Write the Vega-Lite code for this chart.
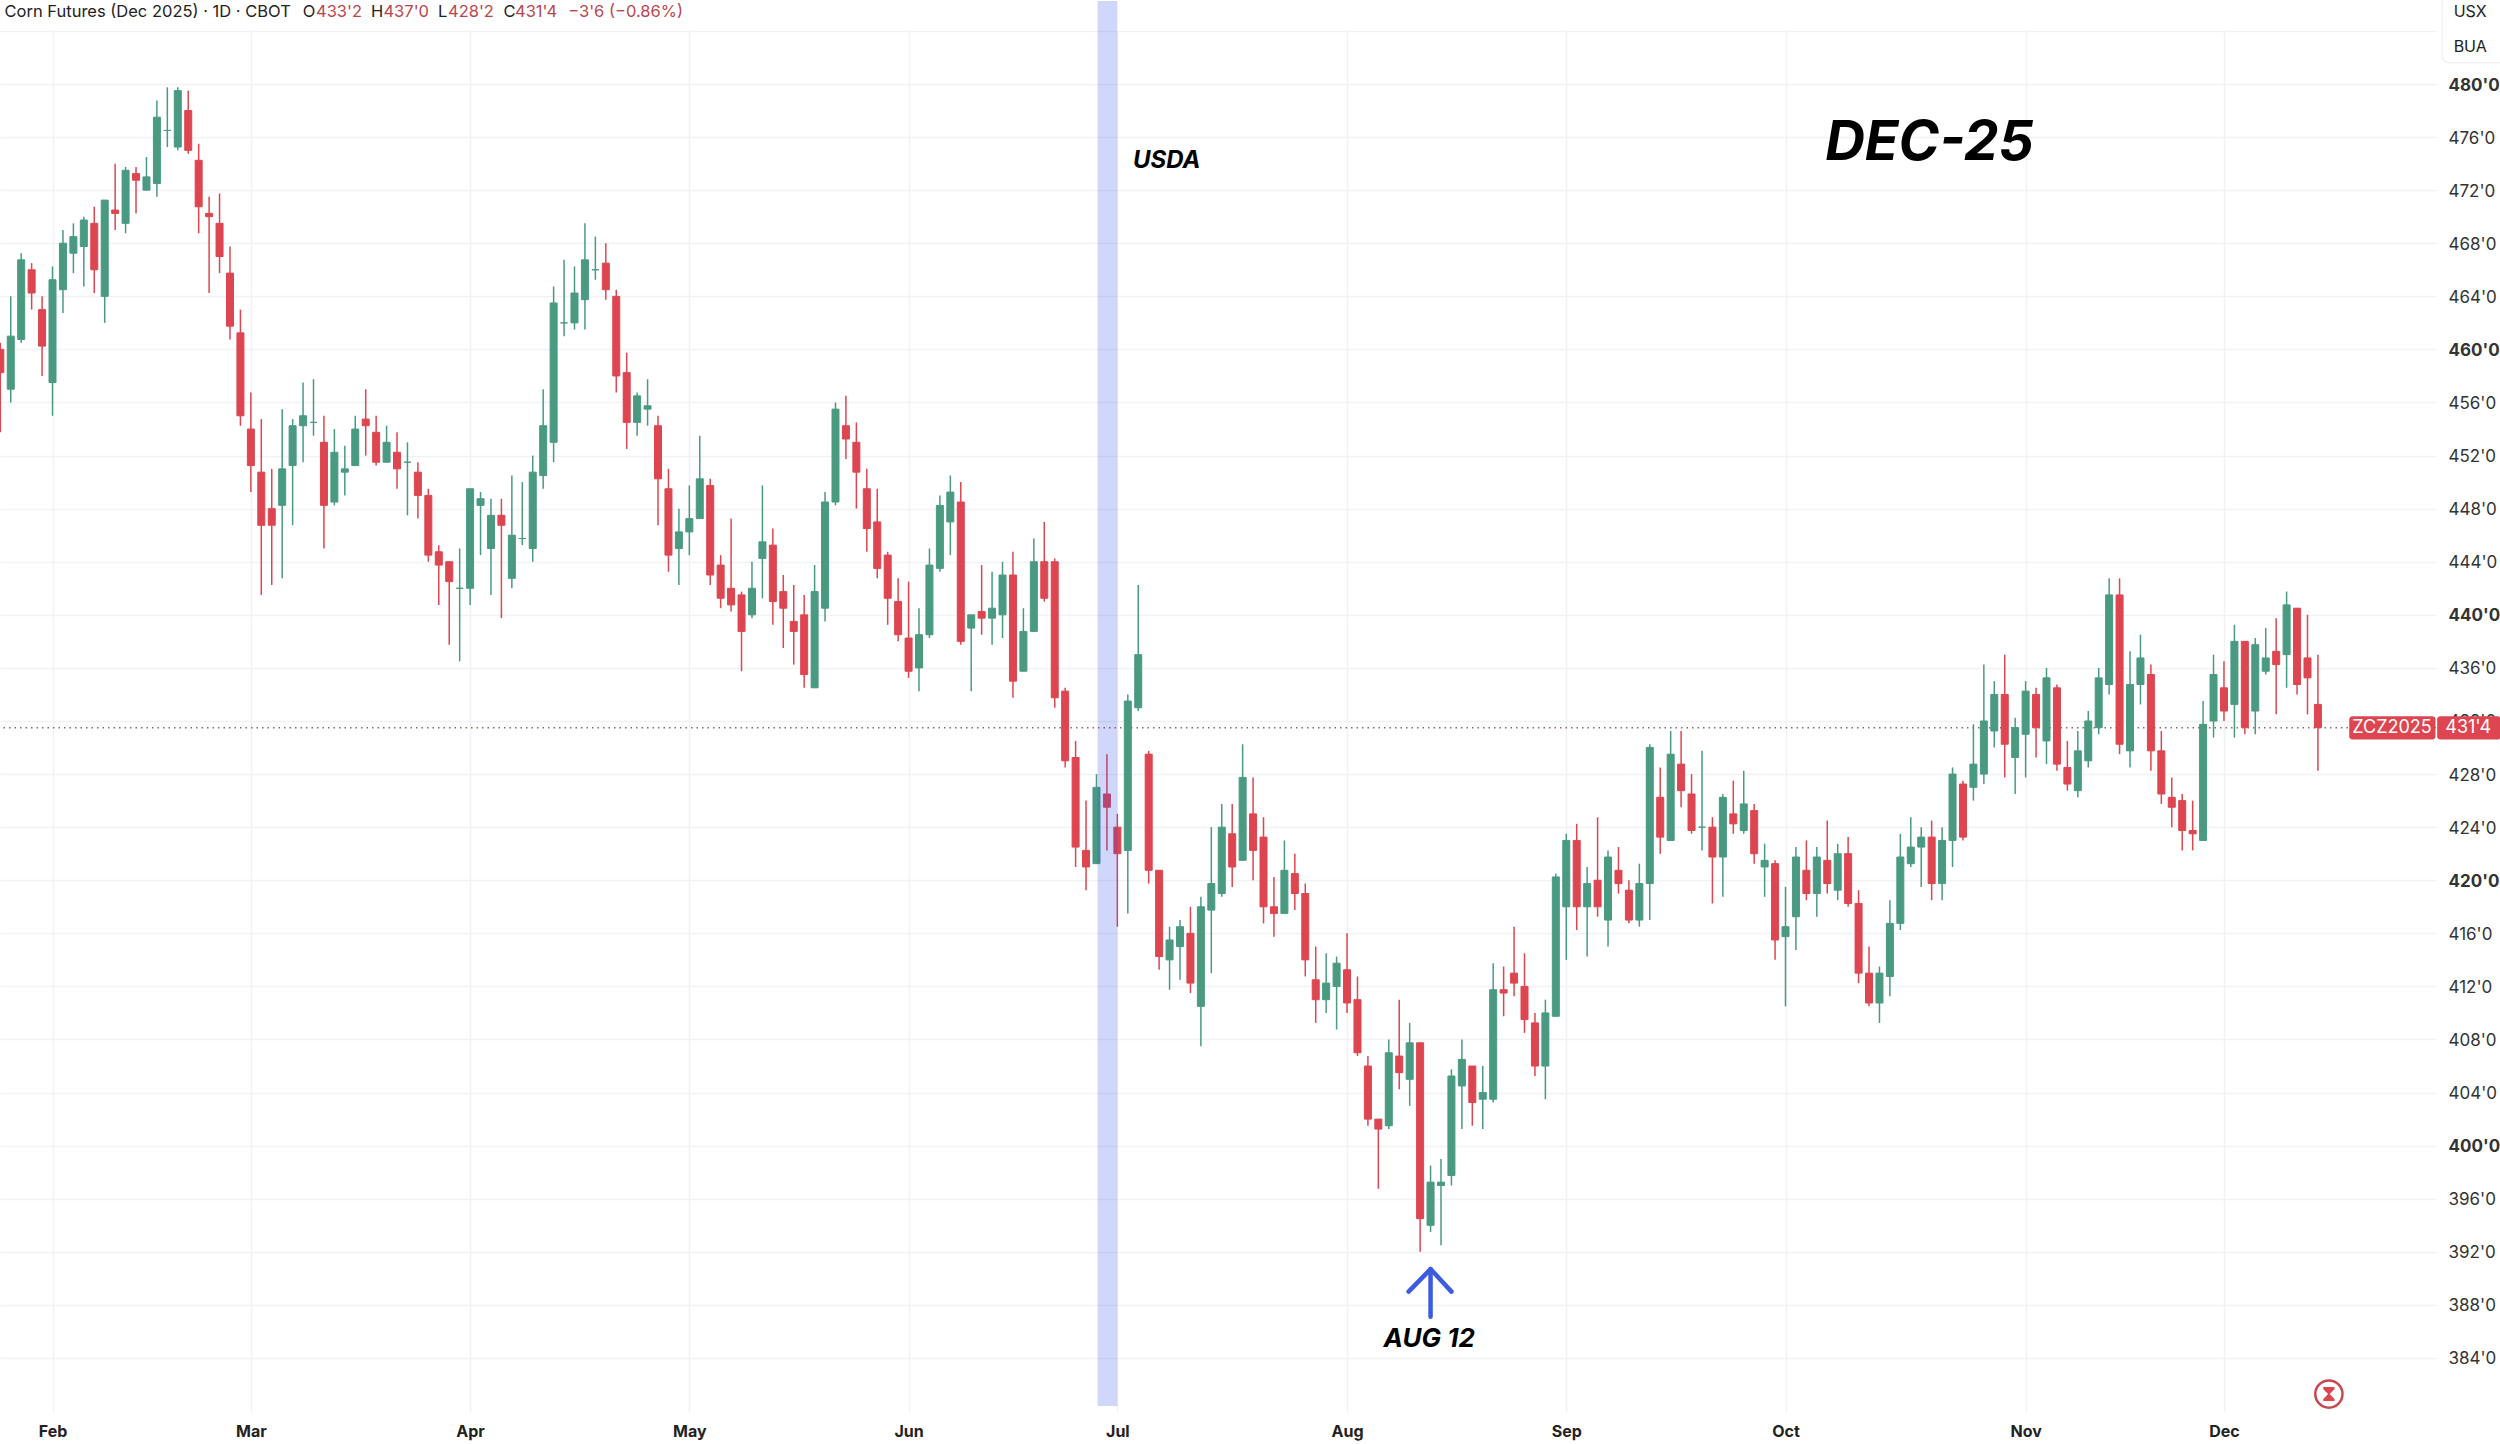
{
  "$schema": "https://vega.github.io/schema/vega-lite/v6.json",
  "autosize": "none",
  "padding": {"left": 0, "top": 0, "right": 64, "bottom": 32},
  "width": 2436,
  "height": 1412,
  "background": "#ffffff",
  "view": {"stroke": null},
  "config": {"font": "Inter"},
  "datasets": {
    "candles": [
      {"i":-5,"o":460,"h":460.5,"l":453.75,"c":458.25},
      {"i":-4,"o":457,"h":464,"l":456,"c":461},
      {"i":-3,"o":460.75,"h":467.25,"l":460.5,"c":466.75},
      {"i":-2,"o":466,"h":466.5,"l":463,"c":464.25},
      {"i":-1,"o":463,"h":464,"l":458,"c":460.25},
      {"i":0,"o":457.5,"h":466.25,"l":455,"c":465.25},
      {"i":1,"o":464.5,"h":469,"l":462.75,"c":468},
      {"i":2,"o":467.25,"h":469.5,"l":465.75,"c":468.5},
      {"i":3,"o":467.75,"h":470,"l":464.75,"c":469.75},
      {"i":4,"o":469.5,"h":470.75,"l":464.25,"c":466},
      {"i":5,"o":464,"h":471.25,"l":462,"c":471.25},
      {"i":6,"o":470.5,"h":474,"l":469,"c":470.25},
      {"i":7,"o":469.5,"h":473.75,"l":468.75,"c":473.5},
      {"i":8,"o":473.25,"h":473.75,"l":470.25,"c":472.75},
      {"i":9,"o":472,"h":474.5,"l":472,"c":473},
      {"i":10,"o":472.5,"h":478.75,"l":471.5,"c":477.5},
      {"i":11,"o":476.5,"h":479.75,"l":475.25,"c":476.5},
      {"i":12,"o":475.25,"h":479.75,"l":475,"c":479.5},
      {"i":13,"o":478,"h":479.5,"l":474.75,"c":475},
      {"i":14,"o":474.25,"h":475.5,"l":468.75,"c":470.75},
      {"i":15,"o":470.25,"h":471.5,"l":464.25,"c":470},
      {"i":16,"o":469.5,"h":471.75,"l":465.75,"c":467},
      {"i":17,"o":465.75,"h":467.75,"l":460.75,"c":461.75},
      {"i":18,"o":461.25,"h":463,"l":454.25,"c":455},
      {"i":19,"o":454,"h":456.75,"l":449.25,"c":451.25},
      {"i":20,"o":450.75,"h":454.75,"l":441.5,"c":446.75},
      {"i":21,"o":448,"h":451,"l":442.25,"c":446.75},
      {"i":22,"o":448.25,"h":455.5,"l":442.75,"c":451},
      {"i":23,"o":451.25,"h":454.75,"l":446.75,"c":454.25},
      {"i":24,"o":454.25,"h":457.5,"l":451.5,"c":455},
      {"i":25,"o":454.5,"h":457.75,"l":453.5,"c":454.5},
      {"i":26,"o":453,"h":455,"l":445,"c":448.25},
      {"i":27,"o":448.5,"h":454,"l":448.25,"c":452.25},
      {"i":28,"o":450.75,"h":452.75,"l":449,"c":451},
      {"i":29,"o":451.25,"h":455,"l":451.25,"c":454},
      {"i":30,"o":454.75,"h":457,"l":452,"c":454.25},
      {"i":31,"o":453.75,"h":455,"l":451.25,"c":451.5},
      {"i":32,"o":451.5,"h":454.25,"l":451.5,"c":453},
      {"i":33,"o":452.25,"h":453.75,"l":449.5,"c":451},
      {"i":34,"o":451.5,"h":453,"l":447.5,"c":451.5},
      {"i":35,"o":450.75,"h":451.5,"l":447.25,"c":449},
      {"i":36,"o":449,"h":449.5,"l":444,"c":444.5},
      {"i":37,"o":444.75,"h":445.25,"l":440.75,"c":443.75},
      {"i":38,"o":444,"h":444,"l":437.75,"c":442.5},
      {"i":39,"o":442,"h":445,"l":436.5,"c":442},
      {"i":40,"o":442,"h":449.5,"l":440.75,"c":449.5},
      {"i":41,"o":448.25,"h":449.25,"l":444.5,"c":448.75},
      {"i":42,"o":445,"h":448.75,"l":441.5,"c":447.5},
      {"i":43,"o":447.5,"h":448.75,"l":439.75,"c":446.75},
      {"i":44,"o":442.75,"h":450.5,"l":442,"c":446},
      {"i":45,"o":445.75,"h":450,"l":445.25,"c":445.75},
      {"i":46,"o":445,"h":452,"l":444,"c":450.75},
      {"i":47,"o":450.5,"h":457,"l":449.5,"c":454.25},
      {"i":48,"o":453,"h":464.75,"l":451.5,"c":463.5},
      {"i":49,"o":462,"h":466.75,"l":461,"c":462},
      {"i":50,"o":462,"h":466.25,"l":461.5,"c":464.25},
      {"i":51,"o":463.75,"h":469.5,"l":461.5,"c":466.75},
      {"i":52,"o":466,"h":468.5,"l":465.25,"c":466},
      {"i":53,"o":466.5,"h":468,"l":463.75,"c":464.5},
      {"i":54,"o":464,"h":464.5,"l":456.75,"c":458},
      {"i":55,"o":458.25,"h":459.75,"l":452.5,"c":454.5},
      {"i":56,"o":454.5,"h":456.75,"l":453.5,"c":456.5},
      {"i":57,"o":455.5,"h":457.75,"l":454.25,"c":455.75},
      {"i":58,"o":454.25,"h":455,"l":446.75,"c":450.25},
      {"i":59,"o":449.5,"h":451,"l":443.25,"c":444.5},
      {"i":60,"o":445,"h":448,"l":442.25,"c":446.25},
      {"i":61,"o":446.25,"h":449.75,"l":444.5,"c":447.25},
      {"i":62,"o":447.25,"h":453.5,"l":447.25,"c":450.25},
      {"i":63,"o":449.75,"h":450.25,"l":442.25,"c":443},
      {"i":64,"o":443.75,"h":444.5,"l":440.5,"c":441.25},
      {"i":65,"o":442,"h":447.25,"l":440.25,"c":440.75},
      {"i":66,"o":441.5,"h":441.75,"l":435.75,"c":438.75},
      {"i":67,"o":440,"h":444,"l":439.75,"c":442},
      {"i":68,"o":444.25,"h":449.75,"l":441.25,"c":445.5},
      {"i":69,"o":445.25,"h":446.5,"l":439.25,"c":441},
      {"i":70,"o":441.75,"h":443,"l":437.5,"c":440.5},
      {"i":71,"o":439.5,"h":442.25,"l":436.25,"c":438.75},
      {"i":72,"o":440,"h":441.5,"l":434.5,"c":435.5},
      {"i":73,"o":434.5,"h":443.75,"l":434.5,"c":441.75},
      {"i":74,"o":440.5,"h":449.25,"l":439.5,"c":448.5},
      {"i":75,"o":448.5,"h":456,"l":448.25,"c":455.5},
      {"i":76,"o":454.25,"h":456.5,"l":451.75,"c":453.25},
      {"i":77,"o":453,"h":454.5,"l":448,"c":450.75},
      {"i":78,"o":449.5,"h":451,"l":444.75,"c":446.5},
      {"i":79,"o":447,"h":449.5,"l":442.75,"c":443.5},
      {"i":80,"o":444.5,"h":444.75,"l":439.25,"c":441.25},
      {"i":81,"o":441,"h":442.75,"l":438,"c":438.5},
      {"i":82,"o":438.25,"h":442.5,"l":435.25,"c":435.75},
      {"i":83,"o":436,"h":440.5,"l":434.25,"c":438.5},
      {"i":84,"o":438.5,"h":445,"l":438.25,"c":443.75},
      {"i":85,"o":443.5,"h":449,"l":443.25,"c":448.25},
      {"i":86,"o":447,"h":450.5,"l":444.5,"c":449.25},
      {"i":87,"o":448.5,"h":450,"l":437.75,"c":438},
      {"i":88,"o":439,"h":440,"l":434.25,"c":440},
      {"i":89,"o":440.25,"h":443.75,"l":438.5,"c":439.75},
      {"i":90,"o":439.75,"h":443.25,"l":437.75,"c":440.5},
      {"i":91,"o":440,"h":444,"l":438.25,"c":443},
      {"i":92,"o":443,"h":444.75,"l":433.75,"c":435},
      {"i":93,"o":435.75,"h":440.5,"l":435.75,"c":438.75},
      {"i":94,"o":438.75,"h":445.75,"l":438.75,"c":444},
      {"i":95,"o":444,"h":447,"l":441,"c":441.25},
      {"i":96,"o":444,"h":444.25,"l":433,"c":433.75},
      {"i":97,"o":434.25,"h":434.5,"l":428.5,"c":429},
      {"i":98,"o":429.25,"h":430.5,"l":421,"c":422.5},
      {"i":99,"o":422.25,"h":426,"l":419.25,"c":421},
      {"i":100,"o":421.25,"h":428,"l":421.25,"c":427},
      {"i":101,"o":426.5,"h":429.5,"l":422.25,"c":425.5},
      {"i":102,"o":424,"h":425,"l":416.5,"c":422},
      {"i":103,"o":422.25,"h":434,"l":417.5,"c":433.5},
      {"i":104,"o":433,"h":442.25,"l":432.75,"c":437},
      {"i":105,"o":429.5,"h":429.75,"l":419.75,"c":420.75},
      {"i":106,"o":420.75,"h":420.75,"l":413.25,"c":414.25},
      {"i":107,"o":414,"h":416.5,"l":411.75,"c":415.5},
      {"i":108,"o":415,"h":417,"l":412.5,"c":416.5},
      {"i":109,"o":416,"h":418,"l":411.5,"c":412.25},
      {"i":110,"o":410.5,"h":418.75,"l":407.5,"c":418},
      {"i":111,"o":417.75,"h":424,"l":413,"c":419.75},
      {"i":112,"o":419,"h":425.75,"l":418.75,"c":424},
      {"i":113,"o":423.5,"h":425.75,"l":419.5,"c":421},
      {"i":114,"o":421.5,"h":430.25,"l":421.5,"c":427.75},
      {"i":115,"o":425,"h":427.75,"l":420,"c":422.25},
      {"i":116,"o":423.25,"h":424.75,"l":416.75,"c":418},
      {"i":117,"o":418,"h":420.25,"l":415.75,"c":417.5},
      {"i":118,"o":417.5,"h":423,"l":417.5,"c":420.75},
      {"i":119,"o":420.5,"h":422,"l":417.75,"c":419},
      {"i":120,"o":419,"h":419.75,"l":412.75,"c":414},
      {"i":121,"o":412.5,"h":415,"l":409.25,"c":411},
      {"i":122,"o":411,"h":414.5,"l":410,"c":412.25},
      {"i":123,"o":412,"h":414.25,"l":408.75,"c":413.75},
      {"i":124,"o":413.25,"h":416,"l":410,"c":410.75},
      {"i":125,"o":411,"h":412.75,"l":406.75,"c":407},
      {"i":126,"o":406,"h":406.75,"l":401.5,"c":402},
      {"i":127,"o":402,"h":402,"l":396.75,"c":401.25},
      {"i":128,"o":401.5,"h":408,"l":401.25,"c":407},
      {"i":129,"o":406.75,"h":411,"l":404.25,"c":405.5},
      {"i":130,"o":405,"h":409.25,"l":403,"c":407.75},
      {"i":131,"o":407.75,"h":407.75,"l":392,"c":394.5},
      {"i":132,"o":394,"h":398.5,"l":393.5,"c":397.25},
      {"i":133,"o":397,"h":399,"l":392.5,"c":397.25},
      {"i":134,"o":397.75,"h":405.75,"l":397,"c":405.25},
      {"i":135,"o":404.5,"h":408,"l":401.25,"c":406.5},
      {"i":136,"o":406,"h":406,"l":401.5,"c":403.25},
      {"i":137,"o":403.5,"h":406,"l":401.25,"c":404},
      {"i":138,"o":403.5,"h":413.75,"l":403.25,"c":411.75},
      {"i":139,"o":411.75,"h":413.5,"l":409.75,"c":411.5},
      {"i":140,"o":413,"h":416.5,"l":411.25,"c":412.25},
      {"i":141,"o":412,"h":414.5,"l":408.5,"c":409.5},
      {"i":142,"o":409.25,"h":410,"l":405.25,"c":406},
      {"i":143,"o":406,"h":411,"l":403.5,"c":410},
      {"i":144,"o":409.75,"h":420.5,"l":409.75,"c":420.25},
      {"i":145,"o":418,"h":423.5,"l":414,"c":423},
      {"i":146,"o":423,"h":424.25,"l":416.25,"c":418},
      {"i":147,"o":418,"h":421,"l":414.25,"c":419.75},
      {"i":148,"o":420,"h":424.75,"l":417.25,"c":418},
      {"i":149,"o":417,"h":422.25,"l":415,"c":421.75},
      {"i":150,"o":420.75,"h":422.5,"l":419,"c":419.75},
      {"i":151,"o":419.25,"h":420,"l":416.75,"c":417},
      {"i":152,"o":417,"h":421.25,"l":416.5,"c":419.75},
      {"i":153,"o":419.75,"h":430.25,"l":417,"c":430},
      {"i":154,"o":426.25,"h":428.5,"l":422,"c":423.25},
      {"i":155,"o":423,"h":431.25,"l":423,"c":429.5},
      {"i":156,"o":428.75,"h":431.25,"l":425.5,"c":426.75},
      {"i":157,"o":426.5,"h":428,"l":423.5,"c":423.75},
      {"i":158,"o":424,"h":429.75,"l":422.25,"c":424},
      {"i":159,"o":424,"h":424.75,"l":418.25,"c":421.75},
      {"i":160,"o":421.75,"h":426.5,"l":418.75,"c":426.25},
      {"i":161,"o":425,"h":427.5,"l":423.5,"c":424.25},
      {"i":162,"o":423.75,"h":428.25,"l":423.5,"c":425.75},
      {"i":163,"o":425.25,"h":425.75,"l":421.25,"c":422},
      {"i":164,"o":421,"h":422.75,"l":418.75,"c":421.5},
      {"i":165,"o":421.25,"h":421.5,"l":414,"c":415.5},
      {"i":166,"o":415.75,"h":419.5,"l":410.5,"c":416.5},
      {"i":167,"o":417.25,"h":422.5,"l":414.75,"c":421.75},
      {"i":168,"o":420.75,"h":423,"l":418.5,"c":419},
      {"i":169,"o":419,"h":422.5,"l":417.25,"c":421.75},
      {"i":170,"o":421.5,"h":424.5,"l":419,"c":419.75},
      {"i":171,"o":419.25,"h":422.75,"l":418.5,"c":422},
      {"i":172,"o":422,"h":423.25,"l":418,"c":418.25},
      {"i":173,"o":418.25,"h":419.25,"l":412.25,"c":413},
      {"i":174,"o":413,"h":415,"l":410.5,"c":410.75},
      {"i":175,"o":410.75,"h":413.5,"l":409.25,"c":413},
      {"i":176,"o":412.75,"h":418.5,"l":411.25,"c":416.75},
      {"i":177,"o":416.75,"h":423.5,"l":416.25,"c":421.75},
      {"i":178,"o":421.25,"h":424.75,"l":421,"c":422.5},
      {"i":179,"o":422.5,"h":424,"l":419.5,"c":423.25},
      {"i":180,"o":423.25,"h":424.5,"l":418.5,"c":419.75},
      {"i":181,"o":419.75,"h":424,"l":418.5,"c":423},
      {"i":182,"o":423,"h":428.5,"l":421,"c":428},
      {"i":183,"o":427.25,"h":427.5,"l":423,"c":423.25},
      {"i":184,"o":427,"h":431.75,"l":426,"c":428.75},
      {"i":185,"o":428,"h":436.25,"l":427.25,"c":432},
      {"i":186,"o":431.25,"h":435,"l":430,"c":434},
      {"i":187,"o":434,"h":437,"l":427.75,"c":430.25},
      {"i":188,"o":429.25,"h":432.25,"l":426.5,"c":431.5},
      {"i":189,"o":431,"h":435,"l":427.75,"c":434.25},
      {"i":190,"o":434,"h":434.5,"l":429.25,"c":431.5},
      {"i":191,"o":430.5,"h":436,"l":428.75,"c":435.25},
      {"i":192,"o":434.5,"h":434.75,"l":428.25,"c":428.75},
      {"i":193,"o":428.5,"h":430.5,"l":426.75,"c":427.25},
      {"i":194,"o":426.75,"h":431.25,"l":426.25,"c":429.75},
      {"i":195,"o":429,"h":432.75,"l":428.5,"c":432},
      {"i":196,"o":431.5,"h":436,"l":431,"c":435.25},
      {"i":197,"o":434.75,"h":442.75,"l":434,"c":441.5},
      {"i":198,"o":441.5,"h":442.75,"l":429.5,"c":430.25},
      {"i":199,"o":429.75,"h":437.25,"l":428.5,"c":434.75},
      {"i":200,"o":434.75,"h":438.5,"l":433.25,"c":436.75},
      {"i":201,"o":435.5,"h":436.25,"l":428.25,"c":429.75},
      {"i":202,"o":429.75,"h":431.25,"l":425.75,"c":426.5},
      {"i":203,"o":426.25,"h":427.75,"l":424,"c":425.5},
      {"i":204,"o":426,"h":426.5,"l":422.25,"c":423.75},
      {"i":205,"o":423.75,"h":426,"l":422.25,"c":423.5},
      {"i":206,"o":423,"h":433.5,"l":423,"c":431.75},
      {"i":207,"o":432,"h":437,"l":430.75,"c":435.5},
      {"i":208,"o":434.5,"h":436.5,"l":432,"c":432.75},
      {"i":209,"o":433.25,"h":439.25,"l":430.75,"c":438},
      {"i":210,"o":438,"h":438,"l":431,"c":431.5},
      {"i":211,"o":432.75,"h":438.25,"l":431,"c":437.75},
      {"i":212,"o":435.75,"h":439,"l":435.5,"c":436.75},
      {"i":213,"o":437.25,"h":439.75,"l":432.5,"c":436.25},
      {"i":214,"o":437,"h":441.75,"l":434.5,"c":440.75},
      {"i":215,"o":440.5,"h":440.5,"l":434,"c":434.75},
      {"i":216,"o":436.75,"h":440,"l":432.5,"c":435.25},
      {"i":217,"o":433.25,"h":437,"l":428.25,"c":431.5}
    ],
    "headerDark": [
      {"i":-4.6,"p":485.45,"label":"Corn Futures (Dec 2025) · 1D · CBOT"},
      {"i":23.97,"p":485.45,"label":"O"},
      {"i":30.5,"p":485.45,"label":"H"},
      {"i":36.93,"p":485.45,"label":"L"},
      {"i":43.2,"p":485.45,"label":"C"}
    ],
    "headerRed": [
      {"i":25.24,"p":485.45,"label":"433'2"},
      {"i":31.7,"p":485.45,"label":"437'0"},
      {"i":37.88,"p":485.45,"label":"428'2"},
      {"i":44.3,"p":485.45,"label":"431'4"},
      {"i":49.4,"p":485.45,"label":"−3'6 (−0.86%)"}
    ],
    "notes": [
      {"i":103.5,"p":474.2,"label":"USDA","size":24},
      {"i":169.8,"p":475.55,"label":"DEC-25","size":55},
      {"i":127.5,"p":385.45,"label":"AUG 12","size":26}
    ],
    "arrow": [
      {"i":129.9,"p":389,"part":"head"},
      {"i":132,"p":390.7,"part":"head"},
      {"i":134,"p":389,"part":"head"},
      {"i":132,"p":390.7,"part":"stem"},
      {"i":132,"p":387.1,"part":"stem"}
    ],
    "tag": [
      {"from":220,"to":228.26,"top":432.35,"bottom":430.6},
      {"from":228.42,"to":234.5,"top":432.35,"bottom":430.6}
    ],
    "tagText": [
      {"i":224.1,"p":431.5,"label":"ZCZ2025"},
      {"i":231.4,"p":431.5,"label":"431'4"}
    ],
    "unit": [
      {"i":230,"p":485.43,"label":"USX"},
      {"i":230,"p":482.79,"label":"BUA"}
    ]
  },
  "layer": [
    {
      "data": {"values": [{"a":484.05,"b":486.33}]},
      "mark": {"type": "rect", "fill": "#ffffff"},
      "encoding": {
        "y": {
          "field": "a",
          "type": "quantitative",
          "title": null,
          "scale": {"domain": [379.93, 486.33], "nice": false, "zero": false},
          "axis": {
            "orient": "right",
            "title": null,
            "values": [384,388,392,396,400,404,408,412,416,420,424,428,432,436,440,444,448,452,456,460,464,468,472,476,480,484],
            "labelExpr": "datum.value > 480 ? '' : datum.value + \"'0\"",
            "labelFontSize": 17,
            "labelColor": "#333333",
            "labelFontWeight": {"condition": {"test": "datum.value % 20 == 0", "value": "bold"}, "value": "normal"},
            "labelPadding": 12,
            "labelOffset": 1,
            "labelOverlap": false,
            "labelBound": false,
            "ticks": false,
            "domain": false,
            "grid": true,
            "gridColor": "#f1f2f4",
            "gridWidth": 1.5
          }
        },
        "y2": {"field": "b"}
      }
    },
    {
      "data": {"values": [{"p":431.5}]},
      "mark": {"type": "rule", "color": "#8c6a5c", "strokeWidth": 1.5, "strokeDash": [1.5, 4]},
      "encoding": {"y": {"field": "p", "type": "quantitative", "title": null}}
    },
    {
      "data": {"name": "candles"},
      "mark": {"type": "rule", "strokeWidth": 1.5},
      "encoding": {
        "x": {
          "field": "i",
          "type": "quantitative",
          "title": null,
          "scale": {"domain": [-5.03, 228.31], "nice": false, "zero": false, "padding": 0},
          "axis": {
            "title": null,
            "values": [0,19,40,61,82,102,124,145,166,189,208],
            "labelExpr": "['Feb','Mar','Apr','May','Jun','Jul','Aug','Sep','Oct','Nov','Dec'][indexof([0,19,40,61,82,102,124,145,166,189,208], datum.value)]",
            "labelFontSize": 16,
            "labelFontWeight": "bold",
            "labelColor": "#222222",
            "labelPadding": 11,
            "labelOverlap": false,
            "labelFlush": false,
            "ticks": false,
            "domain": false,
            "grid": true,
            "gridColor": "#f1f2f4",
            "gridWidth": 1.5
          }
        },
        "y": {"field": "l", "type": "quantitative", "title": null},
        "y2": {"field": "h"},
        "stroke": {"condition": {"test": "datum.c >= datum.o", "value": "#4a9a82"}, "value": "#dd4650"}
      }
    },
    {
      "data": {"name": "candles"},
      "mark": {"type": "bar", "size": 7, "strokeWidth": 1},
      "encoding": {
        "x": {"field": "i", "type": "quantitative", "title": null},
        "y": {"field": "o", "type": "quantitative", "title": null},
        "y2": {"field": "c"},
        "fill": {"condition": {"test": "datum.c >= datum.o", "value": "#4a9a82"}, "value": "#dd4650"},
        "stroke": {"condition": {"test": "datum.c >= datum.o", "value": "#4a9a82"}, "value": "#dd4650"}
      }
    },
    {
      "data": {"values": [{"from":100.1,"to":102,"top":486.25,"bottom":380.38}]},
      "mark": {"type": "rect", "fill": "#2a4be8", "opacity": 0.22},
      "encoding": {
        "x": {"field": "from", "type": "quantitative", "title": null},
        "x2": {"field": "to"},
        "y": {"field": "top", "type": "quantitative", "title": null},
        "y2": {"field": "bottom"}
      }
    },
    {
      "data": {"name": "headerDark"},
      "mark": {"type": "text", "align": "left", "baseline": "middle", "fontSize": 16.5, "color": "#222222"},
      "encoding": {
        "x": {"field": "i", "type": "quantitative", "title": null},
        "y": {"field": "p", "type": "quantitative", "title": null},
        "text": {"field": "label"}
      }
    },
    {
      "data": {"name": "headerRed"},
      "mark": {"type": "text", "align": "left", "baseline": "middle", "fontSize": 16.5, "color": "#b9464e"},
      "encoding": {
        "x": {"field": "i", "type": "quantitative", "title": null},
        "y": {"field": "p", "type": "quantitative", "title": null},
        "text": {"field": "label"}
      }
    },
    {
      "data": {"name": "notes"},
      "mark": {"type": "text", "align": "left", "baseline": "middle", "fontWeight": "bold", "fontStyle": "italic", "color": "#000000"},
      "encoding": {
        "x": {"field": "i", "type": "quantitative", "title": null},
        "y": {"field": "p", "type": "quantitative", "title": null},
        "text": {"field": "label"},
        "size": {"field": "size", "type": "quantitative", "scale": null}
      }
    },
    {
      "data": {"name": "arrow"},
      "mark": {"type": "line", "color": "#3b5be0", "strokeWidth": 4.5, "strokeCap": "round", "strokeJoin": "round"},
      "encoding": {
        "x": {"field": "i", "type": "quantitative", "title": null},
        "y": {"field": "p", "type": "quantitative", "title": null},
        "detail": {"field": "part"},
        "order": {"field": "i"}
      }
    },
    {
      "data": {"values": [{"from":228.9,"to":235,"top":487,"bottom":481.6}]},
      "mark": {"type": "rect", "fill": "#ffffff", "stroke": "#f2f2f2", "strokeWidth": 1.5, "cornerRadiusBottomLeft": 7},
      "encoding": {
        "x": {"field": "from", "type": "quantitative", "title": null},
        "x2": {"field": "to"},
        "y": {"field": "top", "type": "quantitative", "title": null},
        "y2": {"field": "bottom"}
      }
    },
    {
      "data": {"name": "unit"},
      "mark": {"type": "text", "align": "left", "baseline": "middle", "fontSize": 16, "color": "#222222"},
      "encoding": {
        "x": {"field": "i", "type": "quantitative", "title": null},
        "y": {"field": "p", "type": "quantitative", "title": null},
        "text": {"field": "label"}
      }
    },
    {
      "data": {"name": "tag"},
      "mark": {"type": "rect", "fill": "#dd4650", "cornerRadius": 3},
      "encoding": {
        "x": {"field": "from", "type": "quantitative", "title": null},
        "x2": {"field": "to"},
        "y": {"field": "top", "type": "quantitative", "title": null},
        "y2": {"field": "bottom"}
      }
    },
    {
      "data": {"name": "tagText"},
      "mark": {"type": "text", "align": "center", "baseline": "middle", "fontSize": 18, "color": "#ffffff"},
      "encoding": {
        "x": {"field": "i", "type": "quantitative", "title": null},
        "y": {"field": "p", "type": "quantitative", "title": null},
        "text": {"field": "label"}
      }
    },
    {
      "data": {"values": [{"i":218.05,"p":381.28}]},
      "mark": {"type": "point", "shape": "circle", "size": 740, "filled": false, "stroke": "#c9484f", "strokeWidth": 2.5, "opacity": 1},
      "encoding": {
        "x": {"field": "i", "type": "quantitative", "title": null},
        "y": {"field": "p", "type": "quantitative", "title": null}
      }
    },
    {
      "data": {"values": [{"i":218.05,"p":381.28}]},
      "mark": {"type": "point", "shape": "M-.8,-1 H.8 V-.7 L.12,0 L.8,.7 V1 H-.8 V.7 L-.12,0 L-.8,-.7 Z", "size": 196, "filled": true, "fill": "#dd4650", "opacity": 1},
      "encoding": {
        "x": {"field": "i", "type": "quantitative", "title": null},
        "y": {"field": "p", "type": "quantitative", "title": null}
      }
    }
  ]
}
